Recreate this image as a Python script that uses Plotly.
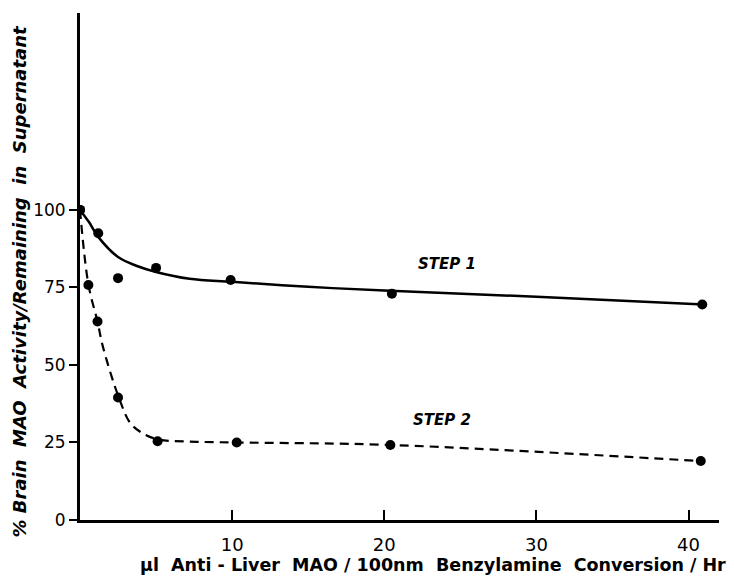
import plotly.graph_objects as go

# Measured points
step1_x = [0, 1.2, 2.5, 5.0, 9.9, 20.5, 40.9]
step1_y = [100, 92.5, 78, 81.3, 77.4, 73, 69.5]
step2_x = [0, 0.55, 1.15, 2.5, 5.1, 10.3, 20.4, 40.8]
step2_y = [100, 75.8, 64, 39.5, 25.4, 25, 24.2, 19]

# Fitted curves
curve1_x = [0, 0.6, 1.2, 2.5, 3.7, 5, 7.2, 10, 15, 20, 30, 41]
curve1_y = [100, 96, 91.3, 84.8, 82, 80, 77.8, 76.8, 75.2, 74, 72, 69.5]
curve2_x = [0, 0.55, 1.15, 1.5, 2.55, 3.3, 4.1, 5.1, 7.2, 10.3, 20.4, 40.8]
curve2_y = [100, 76, 64, 56, 39.5, 31.3, 28, 26, 25.3, 25, 24.2, 19]

x_ticks = [10, 20, 30, 40]
y_ticks = [0, 25, 50, 75, 100]

FONT = "DejaVu Sans"

fig = go.Figure()
fig.add_trace(go.Scatter(x=curve1_x, y=curve1_y, mode="lines",
                         line=dict(color="black", width=2.5, shape="spline", smoothing=1.0),
                         showlegend=False, hoverinfo="skip"))
fig.add_trace(go.Scatter(x=curve2_x, y=curve2_y, mode="lines",
                         line=dict(color="black", width=2.2, dash="9px,6px", shape="spline", smoothing=1.0),
                         showlegend=False, hoverinfo="skip"))
fig.add_trace(go.Scatter(x=step1_x, y=step1_y, mode="markers",
                         marker=dict(color="black", size=10), showlegend=False))
fig.add_trace(go.Scatter(x=step2_x, y=step2_y, mode="markers",
                         marker=dict(color="black", size=10), showlegend=False))

fig.add_annotation(x=24.1, y=82.6, text="<b><i>STEP 1</i></b>", showarrow=False,
                   font=dict(size=15, color="black", family=FONT))
fig.add_annotation(x=23.8, y=32.3, text="<b><i>STEP 2</i></b>", showarrow=False,
                   font=dict(size=15, color="black", family=FONT))

# axis titles as paper annotations for exact placement
fig.add_annotation(xref="paper", yref="paper", x=-0.095, y=0.471, textangle=-90,
                   xanchor="center", yanchor="middle", showarrow=False,
                   text="<b><i>% Brain  MAO  Activity/Remaining  in  Supernatant</i></b>",
                   font=dict(size=18, color="black", family=FONT))
fig.add_annotation(xref="paper", yref="paper", x=0.552, y=-0.089,
                   xanchor="center", yanchor="middle", showarrow=False,
                   text="<b>μl  Anti - Liver  MAO / 100nm  Benzylamine  Conversion / Hr</b>",
                   font=dict(size=17.5, color="black", family=FONT))

fig.update_layout(
    width=734, height=582,
    margin=dict(l=72, r=23, t=5, b=70),
    paper_bgcolor="white", plot_bgcolor="white",
    font=dict(family=FONT, color="black", size=16),
    xaxis=dict(range=[0, 42], tickvals=x_ticks, ticktext=[str(v) for v in x_ticks],
               ticks="inside", ticklen=10, tickwidth=2, tickcolor="black",
               showline=True, linecolor="black", linewidth=3, showgrid=False, zeroline=False,
               tickfont=dict(size=18, family=FONT), automargin=False, ticklabelstandoff=6),
    yaxis=dict(range=[0, 163.5], tickvals=y_ticks, ticktext=[str(v) for v in y_ticks],
               ticks="outside", ticklen=8, tickwidth=2, tickcolor="black",
               showline=True, linecolor="black", linewidth=3, showgrid=False, zeroline=False,
               tickfont=dict(size=17, family=FONT), automargin=False),
)

fig.write_html("out.html")
